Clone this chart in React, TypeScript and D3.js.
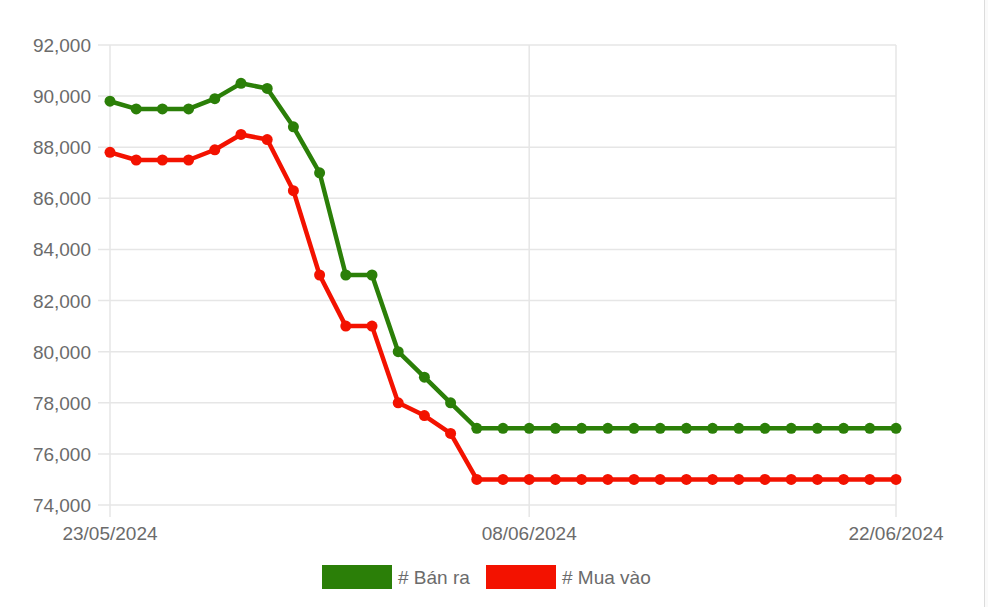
import React from "react";
import * as d3 from "d3";

const dates: string[] = [
  "23/05/2024","24/05/2024","25/05/2024","26/05/2024","27/05/2024","28/05/2024","29/05/2024","30/05/2024",
  "31/05/2024","01/06/2024","02/06/2024","03/06/2024","04/06/2024","05/06/2024","06/06/2024","07/06/2024",
  "08/06/2024","09/06/2024","10/06/2024","11/06/2024","12/06/2024","13/06/2024","14/06/2024","15/06/2024",
  "16/06/2024","17/06/2024","18/06/2024","19/06/2024","20/06/2024","21/06/2024","22/06/2024",
];

const banRa: number[] = [
  89800, 89500, 89500, 89500, 89900, 90500, 90300, 88800, 87000, 83000, 83000, 80000, 79000, 78000, 77000,
  77000, 77000, 77000, 77000, 77000, 77000, 77000, 77000, 77000, 77000, 77000, 77000, 77000, 77000, 77000, 77000,
];

const muaVao: number[] = [
  87800, 87500, 87500, 87500, 87900, 88500, 88300, 86300, 83000, 81000, 81000, 78000, 77500, 76800, 75000,
  75000, 75000, 75000, 75000, 75000, 75000, 75000, 75000, 75000, 75000, 75000, 75000, 75000, 75000, 75000, 75000,
];

const yTicks: number[] = [74000, 76000, 78000, 80000, 82000, 84000, 86000, 88000, 90000, 92000];
const xTickLabels: string[] = ["23/05/2024", "08/06/2024", "22/06/2024"];

const seriesNames: string[] = ["# Bán ra", "# Mua vào"];
const seriesColors: string[] = ["#2b7f08", "#f31200"];

export default function App() {
  const W = 988, H = 607;
  const left = 110, right = 896, top = 45, bottom = 505;
  const x = d3.scaleLinear().domain([0, dates.length - 1]).range([left, right]);
  const y = d3.scaleLinear().domain([74000, 92000]).range([bottom, top]);
  const fmt = d3.format(",");
  const line = d3.line<number>().x((_, i) => x(i)).y((v) => y(v));
  const series = [banRa, muaVao];
  const font = "'Liberation Sans', Arial, sans-serif";
  const textColor = "#6b6b6b";
  const grid = "#e6e6e6";

  return (
    <svg width={W} height={H} style={{ position: "absolute", left: 0, top: 0, display: "block" }} fontFamily={font}>
      <rect x={0} y={0} width={W} height={H} fill="#ffffff" />
      <rect x={984} y={0} width={4} height={H} fill="#fafafa" />
      <line x1={984.5} x2={984.5} y1={0} y2={H} stroke="#dcdcdc" strokeWidth={1} />
      {yTicks.map((t) => (
        <g key={t}>
          <line x1={left - 12} x2={right} y1={y(t)} y2={y(t)} stroke={grid} strokeWidth={1.5} />
          <text x={91} y={y(t) + 7} textAnchor="end" fontSize={19} fill={textColor}>{fmt(t)}</text>
        </g>
      ))}
      {xTickLabels.map((lab) => {
        const i = dates.indexOf(lab);
        return (
          <g key={lab}>
            <line x1={x(i)} x2={x(i)} y1={top} y2={bottom + 12} stroke={grid} strokeWidth={1.5} />
            <text x={x(i)} y={540} textAnchor="middle" fontSize={19} fill={textColor}>{lab}</text>
          </g>
        );
      })}
      {series.map((s, k) => (
        <g key={k}>
          <path d={line(s) || ""} fill="none" stroke={seriesColors[k]} strokeWidth={4.5} strokeLinejoin="round" />
          {s.map((v, i) => (
            <circle key={i} cx={x(i)} cy={y(v)} r={5.5} fill={seriesColors[k]} />
          ))}
        </g>
      ))}
      {seriesNames.map((name, k) => {
        const bx = k === 0 ? 322 : 486;
        return (
          <g key={name}>
            <rect x={bx} y={565} width={70} height={24} fill={seriesColors[k]} />
            <text x={bx + 76} y={584} fontSize={19} fill={textColor}>{name}</text>
          </g>
        );
      })}
    </svg>
  );
}
